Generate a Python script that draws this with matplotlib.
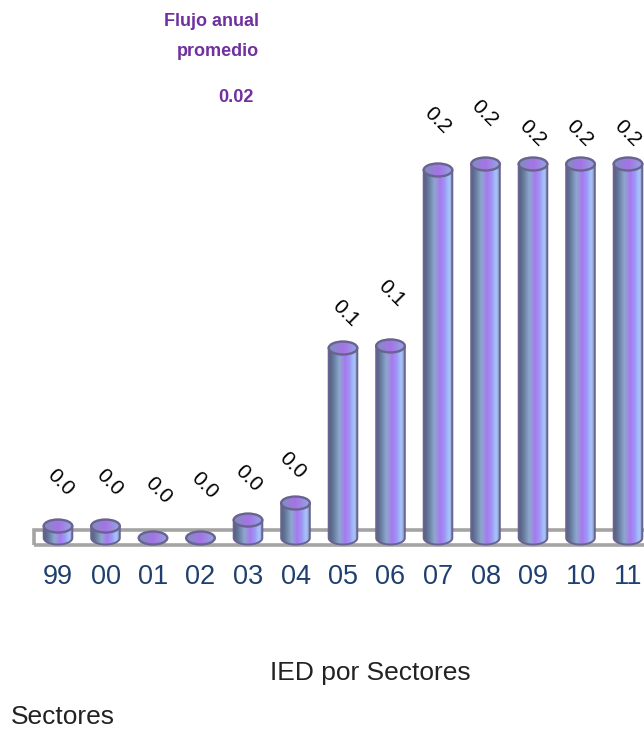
import numpy as np
import matplotlib
matplotlib.use("Agg")
import matplotlib.pyplot as plt
from matplotlib.colors import LinearSegmentedColormap
from matplotlib.patches import Polygon, Ellipse, Rectangle

plt.rcParams['font.family'] = ['Liberation Sans', 'DejaVu Sans']

years = ["99", "00", "01", "02", "03", "04", "05", "06", "07", "08", "09", "10", "11"]
values = [0.0064, 0.0064, 0.0, 0.0, 0.0096, 0.0187, 0.1016, 0.1027, 0.1968, 0.2, 0.2, 0.2, 0.2]
value_labels = ["0.0"] * 6 + ["0.1"] * 2 + ["0.2"] * 5
label_lift = [44, 44, 48, 53, 42, 38, 35, 53, 50, 51, 31, 31, 31]
label_shift = [2, 4, 5, 4, 0, -3, 2, 1, -1, -1, -1, -1, -1]

W, H = 644, 729
fig = plt.figure(figsize=(W / 100, H / 100), dpi=100)
ax_bottom_px = 560
ax = fig.add_axes([0, (H - ax_bottom_px) / H, 1, ax_bottom_px / H])
base_px, px_per_val, step = 538, 1870, 47.5
xlim = (-58 / step, (W - 58) / step)
ylim = (-(ax_bottom_px - base_px) / px_per_val, base_px / px_per_val)

body_cmap = LinearSegmentedColormap.from_list("body", [
    (0, "#55607f"), (0.14, "#64789a"), (0.36, "#8ea8ce"), (0.56, "#a878f0"),
    (0.72, "#9c98f4"), (0.88, "#a8c6fc"), (1, "#8494b8")])
top_cmap = LinearSegmentedColormap.from_list("top", [
    (0, "#7c92bc"), (0.5, "#a672e6"), (1, "#90aae0")])
grad = np.linspace(0, 1, 64).reshape(1, -1)

# floor frame
ax.add_patch(Rectangle((xlim[0] + 34 / step, -7 / px_per_val), 640 / step, 15 / px_per_val,
                       fill=False, ec="#a4a4a4", lw=2.6, zorder=1, clip_on=True))

half_w = 14.3 / step
ry = 6.5 / px_per_val
edge = "#6a6290"
t = np.linspace(np.pi, 2 * np.pi, 60)
for i, v in enumerate(values):
    if v > 0:
        y0 = v
        xs = np.r_[i + half_w * np.cos(t), i + half_w, i - half_w]
        ys = np.r_[ry * np.sin(t), y0, y0]
        poly = Polygon(np.c_[xs, ys], closed=True, fc="none", ec=edge, lw=1.4, zorder=3)
        ax.add_patch(poly)
        im = ax.imshow(grad, cmap=body_cmap, aspect="auto", zorder=2.5, interpolation="bilinear",
                       extent=(i - half_w, i + half_w, -ry, y0))
        im.set_clip_path(poly)
    top = Ellipse((i, v), 2 * half_w, 2 * ry, fc="none", ec=edge, lw=1.7, zorder=5)
    ax.add_patch(top)
    im2 = ax.imshow(grad, cmap=top_cmap, aspect="auto", zorder=4, interpolation="bilinear",
                    extent=(i - half_w, i + half_w, v - ry, v + ry))
    im2.set_clip_path(top)
    ax.annotate(value_labels[i], (i, v), xytext=(label_shift[i] * 0.72, label_lift[i] * 0.72),
                textcoords="offset points", rotation=-45, rotation_mode="anchor",
                ha="center", va="center", fontsize=15, color="black", zorder=6)

ax.set_xlim(*xlim)
ax.set_ylim(*ylim)
ax.set_xticks(range(len(years)))
ax.set_xticklabels(years, fontsize=19.5, color="#1f3f6e")
ax.tick_params(axis="x", length=0, pad=3)
ax.set_yticks([])
for s in ax.spines.values():
    s.set_visible(False)

purple = "#7030a0"
def px_text(x, y, s, **kw):
    fig.text(x / W, 1 - y / H, s, va="center", **kw)
px_text(259, 21, "Flujo anual", ha="right", fontsize=13, fontweight="bold", color=purple)
px_text(259, 52, "promedio", ha="right", fontsize=13, fontweight="bold", color=purple)
px_text(236, 97, "0.02", ha="center", fontsize=13, fontweight="bold", color=purple)
px_text(370, 673, "IED por Sectores", ha="center", fontsize=19, color="#222222")
px_text(11, 717, "Sectores", ha="left", fontsize=19, color="#222222")

fig.savefig("out.png", dpi=100)
